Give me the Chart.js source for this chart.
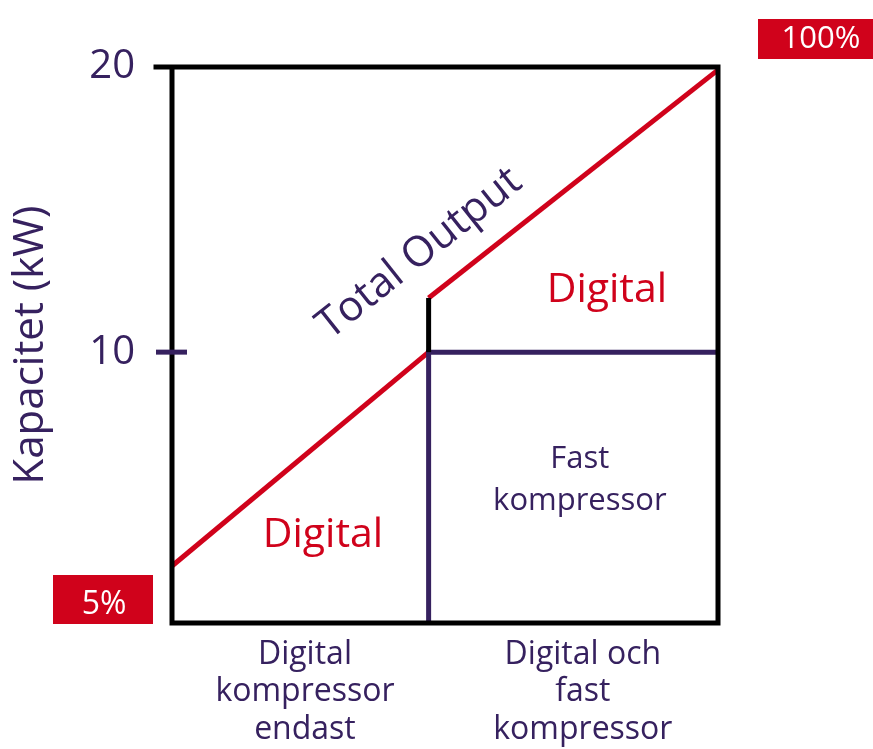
<!DOCTYPE html>
<html>
<head>
<meta charset="utf-8">
<script src="https://cdn.jsdelivr.net/npm/chart.js@4.4.0/dist/chart.umd.min.js"></script>
<style>
  html, body { margin: 0; padding: 0; background: #ffffff; }
  #wrap { width: 873px; height: 749px; }
</style>
</head>
<body>
<div id="wrap"><canvas id="grafica" width="873" height="749"></canvas></div>
<script>
// Kapacitet: digital kompressor ensam, sedan digital + fast kompressor.

var lowerDigitalX = [0, 0.94];
var lowerDigitalY = [2.5, 10];
var upperDigitalX = [0.94, 2];
var upperDigitalY = [11.9, 19.9];
var stepX = [0.94, 0.94];
var stepY = [10, 11.9];
var fastX = [0.94, 0.94, 2];
var fastY = [0.5, 10, 10];
var yTicks = [10, 20];
var xTickValues = [0.487, 1.505];
var xTickLabels = [['Digital', 'kompressor', 'endast'], ['Digital och', 'fast', 'kompressor']];

var red = '#d0021b';
var purple = '#36215f';
var fontFam = '"Open Sans", "Noto Sans", sans-serif';

function toPoints(xs, ys) {
    var pts = [];
    for (var i = 0; i < xs.length; i++) {
        pts.push({ x: xs[i], y: ys[i] });
    }
    return pts;
}

function lineSet(label, xs, ys, color) {
    return {
        label: label,
        data: toPoints(xs, ys),
        borderColor: color,
        borderWidth: 5,
        pointRadius: 0,
        fill: false,
        tension: 0,
        clip: false
    };
}

// Ram, tickmarkeringar, etiketter och rutor.
var decorPlugin = {
    id: 'decor',
    afterDatasetsDraw: function (chart) {
        var ctx = chart.ctx;
        var a = chart.chartArea;
        var xs = chart.scales.x;
        var ys = chart.scales.y;
        ctx.save();

        // ram
        ctx.strokeStyle = '#000000';
        ctx.lineWidth = 5;
        ctx.lineCap = 'square';
        ctx.beginPath();
        ctx.moveTo(a.left - 16, ys.getPixelForValue(20));
        ctx.lineTo(a.right, ys.getPixelForValue(20));
        ctx.lineTo(a.right, a.bottom);
        ctx.lineTo(a.left, a.bottom);
        ctx.lineTo(a.left, ys.getPixelForValue(20));
        ctx.stroke();

        // tick vid 10
        var y10 = ys.getPixelForValue(10);
        ctx.strokeStyle = purple;
        ctx.lineCap = 'butt';
        ctx.beginPath();
        ctx.moveTo(a.left - 16, y10);
        ctx.lineTo(a.left + 15, y10);
        ctx.stroke();

        // texter i diagrammet
        ctx.textAlign = 'center';
        ctx.textBaseline = 'alphabetic';
        ctx.fillStyle = red;
        ctx.font = '41px ' + fontFam;
        ctx.fillText('Digital', xs.getPixelForValue(0.553), 547);
        ctx.fillText('Digital', xs.getPixelForValue(1.593), 302);

        ctx.fillStyle = purple;
        ctx.font = '31px ' + fontFam;
        ctx.fillText('Fast', xs.getPixelForValue(1.494), 468);
        ctx.fillText('kompressor', xs.getPixelForValue(1.494), 510);

        ctx.save();
        ctx.translate(427, 263);
        ctx.rotate(-38.5 * Math.PI / 180);
        ctx.font = '42px ' + fontFam;
        ctx.fillText('Total Output', 0, 0);
        ctx.restore();

        // röda rutor
        ctx.fillStyle = red;
        ctx.fillRect(53, 575, 100, a.bottom + 1 - 575);
        ctx.fillRect(758, 19, 115, 40);
        ctx.fillStyle = '#ffffff';
        ctx.font = '32px ' + fontFam;
        ctx.fillText('5%', 104, 614);
        ctx.font = '31px ' + fontFam;
        ctx.fillText('100%', 821, 48);

        ctx.restore();
    }
};

var context = document.getElementById('grafica').getContext('2d');
var chart = new Chart(context, {
    type: 'line',
    data: {
        datasets: [
            lineSet('Steg', stepX, stepY, '#000000'),
            lineSet('Fast kompressor', fastX, fastY, purple),
            lineSet('Digital övre', upperDigitalX, upperDigitalY, red),
            lineSet('Digital nedre', lowerDigitalX, lowerDigitalY, red)
        ]
    },
    options: {
        responsive: false,
        animation: false,
        events: [],
        layout: { padding: { top: 67, right: 155, bottom: 0, left: 0 } },
        plugins: {
            legend: { display: false },
            tooltip: { enabled: false }
        },
        scales: {
            x: {
                type: 'linear',
                min: 0,
                max: 2,
                grid: { display: false, drawTicks: false },
                border: { display: false },
                afterBuildTicks: function (scale) {
                    scale.ticks = xTickValues.map(function (v) { return { value: v }; });
                },
                afterFit: function (scale) { scale.height = 126; },
                ticks: {
                    autoSkip: false,
                    maxRotation: 0,
                    padding: 13,
                    color: purple,
                    font: { family: fontFam, size: 32, lineHeight: 1.17 },
                    callback: function (value, index) { return xTickLabels[index]; }
                }
            },
            y: {
                type: 'linear',
                min: 0.5,
                max: 20,
                grid: { display: false, drawTicks: false },
                border: { display: false },
                afterBuildTicks: function (scale) {
                    scale.ticks = yTicks.map(function (v) { return { value: v }; });
                },
                afterFit: function (scale) { scale.width = 172; },
                ticks: {
                    padding: 37,
                    color: purple,
                    font: { family: fontFam, size: 40 }
                },
                title: {
                    display: true,
                    text: 'Kapacitet (kW)',
                    color: purple,
                    font: { family: fontFam, size: 42, lineHeight: 1.2 },
                    padding: { top: 6, bottom: 0 }
                }
            }
        }
    },
    plugins: [decorPlugin]
});
</script>
</body>
</html>
